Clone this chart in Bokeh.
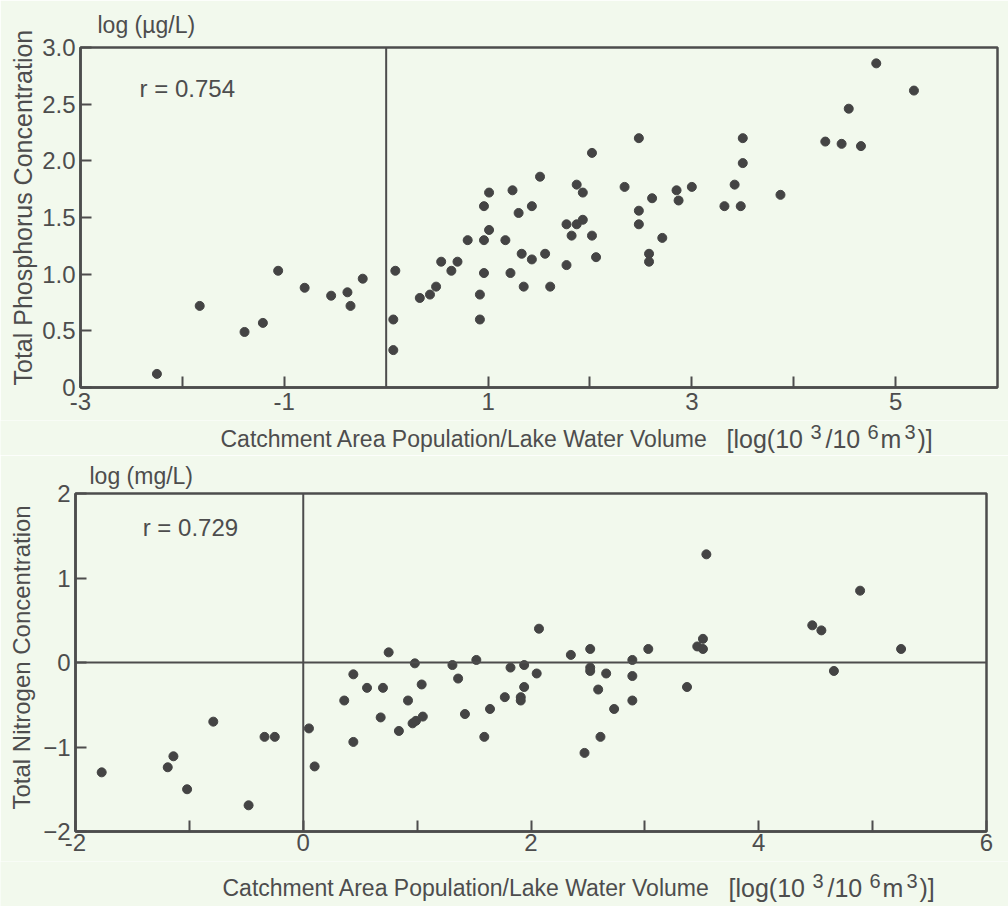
from bokeh.plotting import figure
from bokeh.layouts import column, row
from bokeh.models import Range1d, FixedTicker, Span, Label, Title
from bokeh.embed import file_html
from bokeh.resources import INLINE

# ---- data: total phosphorus vs population/volume ----
tp_x = [-2.25, -1.83, -1.39, -1.21, -1.06, -0.80, -0.54, -0.38, -0.35, -0.23,
        0.09, 0.07, 0.07, 0.33, 0.43, 0.49, 0.54, 0.64, 0.70, 0.80,
        0.92, 0.92, 0.96, 0.96, 0.96, 1.01, 1.01, 1.17, 1.22, 1.24,
        1.30, 1.33, 1.35, 1.43, 1.43, 1.51, 1.56, 1.61, 1.77, 1.77,
        1.82, 1.87, 1.87, 1.93, 1.93, 2.02, 2.02, 2.06, 2.34, 2.48,
        2.48, 2.48, 2.58, 2.58, 2.61, 2.71, 2.85, 2.87, 3.00,
        3.50, 3.50, 3.42, 3.32, 3.48, 3.87, 4.31, 4.47, 4.66, 4.54, 4.81, 5.18]
tp_y = [0.12, 0.72, 0.49, 0.57, 1.03, 0.88, 0.81, 0.84, 0.72, 0.96,
        1.03, 0.60, 0.33, 0.79, 0.82, 0.89, 1.11, 1.03, 1.11, 1.30,
        0.82, 0.60, 1.60, 1.30, 1.01, 1.72, 1.39, 1.30, 1.01, 1.74,
        1.54, 1.18, 0.89, 1.60, 1.13, 1.86, 1.18, 0.89, 1.44, 1.08,
        1.34, 1.79, 1.44, 1.48, 1.72, 2.07, 1.34, 1.15, 1.77, 2.20,
        1.56, 1.44, 1.18, 1.11, 1.67, 1.32, 1.74, 1.65, 1.77,
        2.20, 1.98, 1.79, 1.60, 1.60, 1.70, 2.17, 2.15, 2.13, 2.46, 2.86, 2.62]

# ---- data: total nitrogen vs population/volume ----
tn_x = [-1.77, -1.19, -1.14, -1.02, -0.79, -0.48, -0.34, -0.25, 0.05, 0.10,
        0.36, 0.44, 0.44, 0.56, 0.68, 0.70, 0.75, 0.84, 0.92, 0.96,
        0.98, 0.99, 1.04, 1.05, 1.31, 1.36, 1.42, 1.52, 1.59, 1.64,
        1.77, 1.82, 1.91, 1.91, 1.94, 1.94, 2.05, 2.07, 2.35, 2.47,
        2.52, 2.52, 2.52, 2.59, 2.61, 2.66, 2.73, 2.89, 2.89, 2.89,
        3.03, 3.37, 3.46, 3.51, 3.51, 3.54, 4.47, 4.55, 4.66, 4.89, 5.25]
tn_y = [-1.30, -1.24, -1.11, -1.50, -0.70, -1.69, -0.88, -0.88, -0.78, -1.23,
        -0.45, -0.14, -0.94, -0.30, -0.65, -0.30, 0.12, -0.81, -0.45, -0.72,
        -0.01, -0.69, -0.26, -0.64, -0.03, -0.19, -0.61, 0.03, -0.88, -0.55,
        -0.41, -0.06, -0.41, -0.45, -0.03, -0.29, -0.13, 0.40, 0.09, -1.07,
        0.16, -0.06, -0.10, -0.32, -0.88, -0.13, -0.55, 0.03, -0.16, -0.45,
        0.16, -0.29, 0.19, 0.28, 0.16, 1.28, 0.44, 0.38, -0.10, 0.85, 0.16]

tp_xticks = [-3, -2, -1, 1, 2, 3, 4, 5]
tp_xlabels = {-3: "-3", -2: "", -1: "-1", 1: "1", 2: "", 3: "3", 4: "", 5: "5"}
tp_yticks = [0, 0.5, 1.0, 1.5, 2.0, 2.5, 3.0]
tp_ylabels = {0: "0", 0.5: "0.5", 1.0: "1.0", 1.5: "1.5", 2.0: "2.0", 2.5: "2.5", 3.0: "3.0"}
tn_xticks = [-2, -1, 0, 1, 2, 3, 4, 5, 6]
tn_xlabels = {-2: "-2", -1: "", 0: "0", 1: "", 2: "2", 3: "", 4: "4", 5: "", 6: "6"}
tn_yticks = [-2, -1, 0, 1, 2]

# x-axis title split into pieces so the exponents can be raised
x_title_parts = ["Catchment Area Population/Lake Water Volume", "[log(10", "3", "/10", "6", "m", "3", ")]"]

BG = "#f2f9ed"
INK = "#4d4d4d"
DOT = "#444444"
FONT = "Liberation Sans"
W = 1008

# piece layout in the title strip: (font size px, left px, raise px)
PIECE_STYLE = [(23, 220, 0), (25, 726, 0), (20, 810, 13), (25, 825, 0),
               (20, 867, 13), (25, 880, 0), (20, 904, 13), (25, 917, 0)]


def style(p, xticks, xlabels, yticks, ylabels, xstand):
    p.background_fill_color = BG
    p.border_fill_color = BG
    p.outline_line_color = INK
    p.outline_line_width = 2.5
    p.outline_line_alpha = 1.0
    p.grid.visible = False
    for ax in (p.xaxis[0], p.yaxis[0]):
        ax.axis_line_color = INK
        ax.axis_line_width = 2.5
        ax.major_tick_in = 11
        ax.major_tick_out = 0
        ax.major_tick_line_color = INK
        ax.major_tick_line_width = 2
        ax.minor_tick_line_color = None
        ax.major_label_text_font = FONT
        ax.major_label_text_font_size = "24px"
        ax.major_label_text_color = INK
    p.xaxis[0].ticker = FixedTicker(ticks=xticks)
    p.xaxis[0].major_label_overrides = xlabels
    p.xaxis[0].major_label_standoff = xstand
    p.yaxis[0].ticker = FixedTicker(ticks=yticks)
    if ylabels:
        p.yaxis[0].major_label_overrides = ylabels
    p.yaxis[0].major_label_standoff = 5


def title_strip(height, baseline_from_bottom, shift=0):
    s = figure(width=W, height=height, x_range=Range1d(0, W), y_range=Range1d(0, height),
               output_backend="svg", toolbar_location=None, min_border=0,
               x_axis_type=None, y_axis_type=None)
    s.background_fill_color = BG
    s.border_fill_color = BG
    s.outline_line_color = None
    s.grid.visible = False
    for txt, (fs, px, rise) in zip(x_title_parts, PIECE_STYLE):
        s.add_layout(Label(x=px + shift, y=baseline_from_bottom + rise - 0.21 * fs, text=txt,
                           text_font=FONT, text_font_size="%dpx" % fs, text_color=INK,
                           text_baseline="bottom", text_align="left"))
    return s


# ---------- top panel ----------
p1 = figure(frame_width=917, frame_height=340, x_range=Range1d(-3, 6), y_range=Range1d(0, 3),
            output_backend="svg", toolbar_location=None,
            min_border_left=80, min_border_right=11, min_border_top=47, min_border_bottom=33)
style(p1, tp_xticks, tp_xlabels, tp_yticks, tp_ylabels, 5)
p1.add_layout(Span(location=0, dimension="height", line_color=INK, line_width=2))
p1.scatter(tp_x, tp_y, size=9, fill_color=DOT, line_color=DOT)
p1.add_layout(Label(x=-2.42, y=2.515, text="r = 0.754", text_font=FONT,
                    text_font_size="24px", text_color=INK))
p1.add_layout(Title(text="log (\u00b5g/L)", align="left", offset=17, text_font=FONT,
                    text_font_size="23px", text_font_style="normal", text_color=INK,
                    standoff=19), "above")
p1.add_layout(Title(text="Total Phosphorus Concentration", align="left", offset=2,
                    text_font=FONT, text_font_size="25px", text_font_style="normal",
                    text_color=INK, standoff=6), "left")
t1 = title_strip(35, 8)

# ---------- bottom panel ----------
p2 = figure(frame_width=911, frame_height=338, x_range=Range1d(-2, 6), y_range=Range1d(-2, 2),
            output_backend="svg", toolbar_location=None,
            min_border_left=73, min_border_right=24, min_border_top=37, min_border_bottom=30)
style(p2, tn_xticks, tn_xlabels, tn_yticks, None, 2)
p2.add_layout(Span(location=0, dimension="height", line_color=INK, line_width=2))
p2.add_layout(Span(location=0, dimension="width", line_color=INK, line_width=2))
p2.scatter(tn_x, tn_y, size=9, fill_color=DOT, line_color=DOT)
p2.add_layout(Label(x=-1.41, y=1.44, text="r = 0.729", text_font=FONT,
                    text_font_size="24px", text_color=INK))
p2.add_layout(Title(text="log (mg/L)", align="left", offset=14, text_font=FONT,
                    text_font_size="23px", text_font_style="normal", text_color=INK,
                    standoff=10), "above")
p2.add_layout(Title(text="Total Nitrogen Concentration", align="left", offset=22,
                    text_font=FONT, text_font_size="24px", text_font_style="normal",
                    text_color=INK, standoff=11), "left")
t2 = title_strip(45, 10, 2)

layout = column(row(p1), row(t1), row(p2), row(t2), spacing=0)
html = file_html(layout, INLINE)
html = html.replace("<body>", '<body style="background:%s">' % BG, 1)
open("out.html", "w").write(html)
